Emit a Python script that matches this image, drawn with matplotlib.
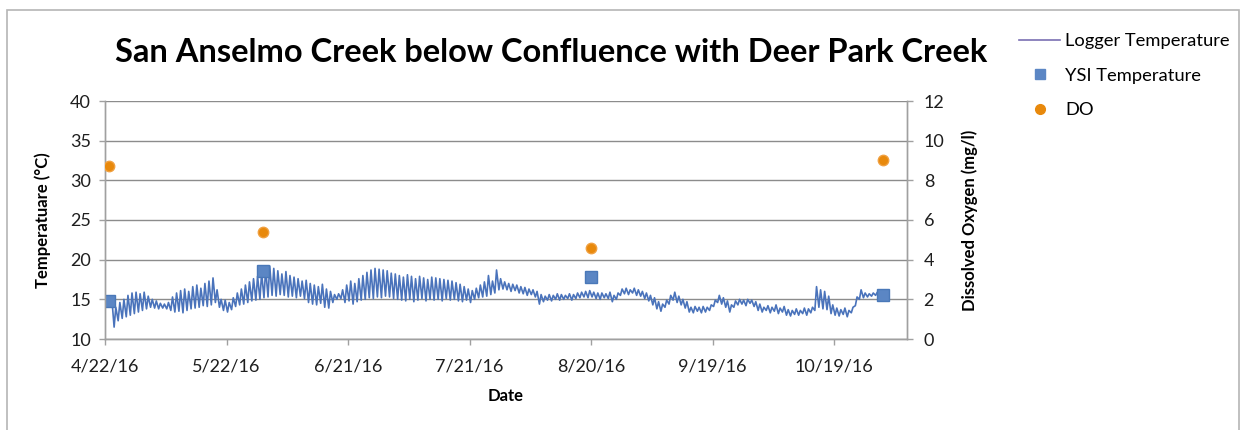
import matplotlib
matplotlib.use("Agg")
import matplotlib.pyplot as plt
import matplotlib.dates as mdates
from matplotlib.lines import Line2D
from matplotlib.patches import Rectangle
from matplotlib.ticker import FuncFormatter, MultipleLocator
from datetime import datetime, timedelta

plt.rcParams['font.family'] = ['Lato', 'DejaVu Sans']

# logger temperature, daily low / high (deg C), one pair per day from 4/23/16
logger_low = [
    14.6, 11.5, 12.3, 12.6, 12.8, 13.0, 13.2,
    13.4, 13.6, 13.8, 14.0, 13.9, 13.8, 13.9,
    13.8, 13.6, 13.4, 13.5, 13.3, 13.6, 13.8,
    13.9, 14.0, 14.2, 14.1, 14.3, 14.6, 14.0,
    13.6, 13.4, 13.7, 14.1, 14.3, 14.4, 14.6,
    14.8, 14.9, 15.0, 15.2, 15.3, 15.5, 15.4,
    15.6, 15.5, 15.3, 15.4, 15.2, 15.4, 15.1,
    14.6, 14.4, 14.3, 14.5, 14.0, 13.9, 14.6,
    15.0, 15.1, 14.6, 14.8, 14.4, 14.7, 14.9,
    15.0, 15.2, 15.1, 15.3, 15.2, 15.4, 15.3,
    15.1, 15.0, 14.9, 14.8, 15.0, 14.7, 14.9,
    15.1, 14.8, 15.0, 14.9, 15.0, 14.8, 15.1,
    14.9, 15.0, 14.8, 14.7, 14.9, 14.6, 15.0,
    15.2, 15.3, 15.4, 15.6, 15.8, 16.2, 16.3,
    16.2, 16.0, 16.1, 15.8, 15.7, 15.5, 15.6,
    15.3, 14.4, 14.7, 14.9, 14.8, 15.0, 14.9,
    15.0, 15.1, 14.9, 15.1, 15.2, 15.3, 15.2,
    15.3, 15.1, 15.0, 15.2, 15.1, 14.7, 15.0,
    15.5, 15.7, 15.6, 15.8, 15.5, 15.4, 15.1,
    14.8, 14.3, 13.8, 13.5, 14.0, 14.4, 14.9,
    14.6, 14.3, 13.9, 13.4, 13.3, 13.5, 13.3,
    13.4, 13.6, 14.1, 14.6, 14.4, 14.0, 13.4,
    14.0, 14.3, 14.4, 14.2, 14.5, 14.1, 13.6,
    13.4, 13.6, 13.3, 13.5, 13.2, 13.4, 13.0,
    12.9, 13.1, 13.0, 13.2, 13.0, 13.3, 13.6,
    14.0, 13.8, 13.7, 13.2, 13.0, 12.9, 13.1,
    12.8, 13.3, 14.2, 15.0, 15.2, 15.3, 15.4,
    15.5, 15.5,
]
logger_high = [
    15.2, 14.0, 14.6, 15.0, 15.5, 15.8, 15.9,
    15.7, 15.9, 15.4, 15.0, 14.8, 14.5, 14.4,
    14.6, 15.3, 15.8, 16.1, 16.3, 16.0, 16.6,
    16.8, 16.4, 17.0, 17.3, 17.7, 16.2, 15.0,
    14.9, 14.6, 15.2, 15.8, 16.3, 16.8, 17.2,
    17.6, 17.9, 18.3, 18.8, 19.2, 18.9, 18.6,
    18.2, 18.5, 18.0, 17.8, 17.6, 17.3, 17.4,
    17.0, 16.8, 16.6, 16.9, 16.3, 16.0, 15.6,
    15.7, 16.2, 16.8, 17.3, 17.0, 17.6, 18.0,
    18.4, 18.7, 18.9, 18.8, 18.7, 18.6, 18.3,
    18.2, 18.0, 17.8, 18.1, 17.9, 17.6, 17.9,
    17.7, 17.5, 17.8, 17.7, 17.6, 17.5, 17.4,
    17.3, 17.1, 16.9, 16.6, 16.3, 16.1, 16.4,
    16.8, 17.2, 18.0, 17.3, 18.7, 17.6, 17.2,
    17.0, 16.9, 16.8, 16.6, 16.5, 16.3, 16.2,
    16.0, 15.6, 15.4, 15.6, 15.5, 15.7, 15.6,
    15.5, 15.7, 15.6, 15.8, 15.9, 16.0, 16.1,
    15.9, 15.8, 15.8, 15.7, 15.9, 15.5, 15.8,
    16.3, 16.4, 16.2, 16.4, 16.2, 16.0, 15.8,
    15.5, 15.2, 14.7, 14.4, 14.9, 15.5, 15.9,
    15.4, 15.0, 14.7, 14.0, 14.1, 14.0, 14.1,
    14.0, 14.3, 14.9, 15.5, 15.2, 14.8, 14.3,
    14.8, 15.0, 14.9, 15.0, 14.9, 14.7, 14.4,
    14.0, 14.2, 14.0, 14.3, 13.9, 14.1, 13.7,
    13.6, 13.8, 13.6, 13.9, 13.8, 14.0, 16.6,
    16.2, 16.0, 15.4, 14.3, 13.9, 13.7, 13.9,
    13.6, 14.0, 15.3, 16.2, 15.8, 15.7, 15.8,
    15.9, 15.8,
]
logger_start = "2016-04-23"

sample_dates = ["2016-04-23", "2016-05-31", "2016-08-20", "2016-10-31"]
ysi_temp = [14.8, 18.6, 17.8, 15.5]
do_mgl = [8.7, 5.4, 4.6, 9.05]

line_color = "#4a73bb"
ysi_color = "#5b86c4"
do_color = "#e8890c"
grid_color = "#8c8c8c"

# build the logger trace: low early in the day, high in the afternoon
t0 = datetime.strptime(logger_start, "%Y-%m-%d")
log_t, log_v = [], []
for i, (lo, hi) in enumerate(zip(logger_low, logger_high)):
    day = t0 + timedelta(days=i)
    log_t += [day + timedelta(hours=6), day + timedelta(hours=16)]
    log_v += [lo, hi]

samp_t = [datetime.strptime(d, "%Y-%m-%d") for d in sample_dates]

fig = plt.figure(figsize=(12.41, 4.30), dpi=100)
ax = fig.add_axes([105 / 1241, 1 - 339 / 430, 802 / 1241, 238 / 430])
ax2 = ax.twinx()

ax.plot(log_t, log_v, color=line_color, lw=1.2, zorder=3)
ax.plot(samp_t, ysi_temp, ls="none", marker="s", ms=8.5, color=ysi_color,
        markeredgecolor="#4a78b8", zorder=4)
ax2.plot(samp_t, do_mgl, ls="none", marker="o", ms=7.5, color=do_color,
         markeredgecolor="#f0a040", zorder=4)

x0 = datetime(2016, 4, 22)
ax.set_xlim(x0, x0 + timedelta(days=198))
ax.set_xticks([x0 + timedelta(days=30 * k) for k in range(7)])
ax.xaxis.set_major_formatter(FuncFormatter(
    lambda v, p: "{}/{}/{}".format(mdates.num2date(v).month,
                                   mdates.num2date(v).day,
                                   mdates.num2date(v).year % 100)))

ax.set_ylim(10, 40)
ax.yaxis.set_major_locator(MultipleLocator(5))
ax2.set_ylim(0, 12)
ax2.yaxis.set_major_locator(MultipleLocator(2))

ax.grid(axis="y", color=grid_color, lw=1.0)
ax.set_axisbelow(True)
for a in (ax, ax2):
    for s in a.spines.values():
        s.set_color("#a0a0a0")
        s.set_linewidth(1.0)
    a.spines["top"].set_visible(False)
    a.tick_params(labelsize=13, colors="#a0a0a0", labelcolor="#1e1e1e",
                  length=4, width=1, direction="out")
ax.tick_params(axis="x", pad=10)
ax.tick_params(axis="y", pad=6)
ax2.tick_params(axis="y", pad=8)

ax.set_xlabel("Date", fontsize=12, fontweight="bold", labelpad=10)
ax.set_ylabel("Temperatuare (\u00b0C)", fontsize=12, fontweight="bold", labelpad=14)
ax2.set_ylabel("Dissolved Oxygen (mg/l)", fontsize=12, fontweight="bold", labelpad=12)

fig.text(551 / 1241, 1 - 52 / 430,
         "San Anselmo Creek below Confluence with Deer Park Creek",
         ha="center", va="center", fontsize=23.5, fontweight="bold")

handles = [
    Line2D([], [], color="#7a6fb3", lw=1.2),
    Line2D([], [], ls="none", marker="s", ms=7, color=ysi_color),
    Line2D([], [], ls="none", marker="o", ms=7, color=do_color),
]
fig.legend(handles, ["Logger Temperature", "YSI Temperature", "DO"],
           loc="upper left", bbox_to_anchor=(1012 / 1241, 1 - 26 / 430),
           frameon=False, fontsize=13.2, labelspacing=1.0,
           handlelength=2.2, handletextpad=0.3, borderaxespad=0)

fig.patches.append(Rectangle((7 / 1241, -0.05), 1232 / 1241, 1.05 - 10 / 430,
                             transform=fig.transFigure, fill=False,
                             edgecolor="#b5b5b5", lw=1.2))

fig.savefig("out.png", dpi=100)
